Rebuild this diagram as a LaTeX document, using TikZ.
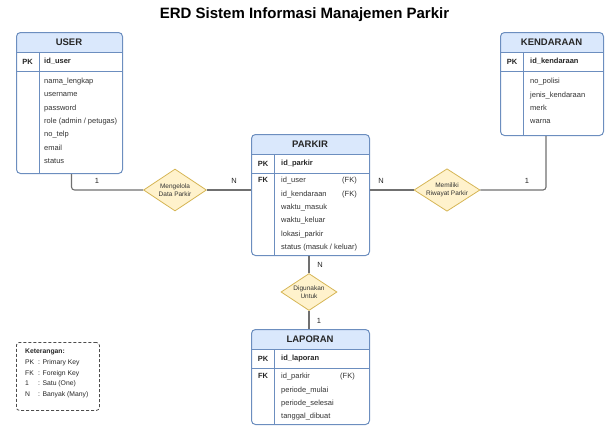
\documentclass[tikz,border=0pt]{standalone}
\usepackage{fontspec}
\setmainfont{Liberation Sans}
\usetikzlibrary{shapes.geometric}

\definecolor{hdrblue}{HTML}{DAE8FC}
\definecolor{lineblue}{HTML}{6C8EBF}
\definecolor{dmdfill}{HTML}{FFF2CC}
\definecolor{dmdline}{HTML}{D6B656}
\definecolor{conngray}{HTML}{707070}

\begin{document}
\begin{tikzpicture}[x=1pt, y=-1pt,
		entity/.style={draw=lineblue, line width=1pt, rounded corners=4pt, fill=white,
			inner sep=0pt, anchor=north west,
			path picture={
				\fill[hdrblue, sharp corners] (path picture bounding box.north west) rectangle ([yshift=-20pt]path picture bounding box.north east);
				\draw[lineblue, line width=1pt] ([yshift=-20pt]path picture bounding box.north west) -- ([yshift=-20pt]path picture bounding box.north east);
				\draw[lineblue, line width=1pt] ([yshift=-39pt]path picture bounding box.north west) -- ([yshift=-39pt]path picture bounding box.north east);
				\draw[lineblue, line width=1pt] ([shift={(23pt,-20pt)}]path picture bounding box.north west) -- ([xshift=23pt]path picture bounding box.south west);
			}},
		hdtext/.style={font=\fontsize{9.5}{11}\selectfont\bfseries, text=black!85, inner sep=0pt},
		keytext/.style={font=\fontsize{7.5}{9}\selectfont\bfseries, text=black!85, inner sep=0pt},
		attr/.style={font=\fontsize{7.5}{13.3}\selectfont, align=left, anchor=north west, inner sep=0pt, text=black!80},
		rel/.style={diamond, aspect=1.5, draw=dmdline, fill=dmdfill, line width=0.8pt, inner sep=0pt,
			align=center, font=\fontsize{6.5}{8.5}\selectfont, text=black!80},
		card/.style={font=\fontsize{7.5}{9}\selectfont, inner sep=0pt, text=black!85},
		conn/.style={draw=conngray, line width=1.1pt},
	]
		\useasboundingbox (0,0) rectangle (609,426);

		\node[font=\fontsize{15}{18}\selectfont\bfseries] (title) at (304.5,15) {ERD Sistem Informasi Manajemen Parkir};

		% entities
		\node[entity, minimum width=106pt, minimum height=141pt] (user) at (16,32) {};
		\node[hdtext] (usert) at (69,42) {USER};
		\node[keytext] (userpk) at (27.5,61.5) {PK};
		\node[keytext, anchor=west] (userid) at (44,61.5) {id\_user};
		\node[attr] (userat) at (44,77.9) {nama\_lengkap\\username\\password\\role (admin / petugas)\\no\_telp\\email\\status};

		\node[entity, minimum width=103pt, minimum height=103pt] (kend) at (500,32) {};
		\node[hdtext] (kendt) at (551.5,42) {KENDARAAN};
		\node[keytext] (kendpk) at (512,61.5) {PK};
		\node[keytext, anchor=west] (kendid) at (530,61.5) {id\_kendaraan};
		\node[attr] (kendat) at (530,78.2) {no\_polisi\\jenis\_kendaraan\\merk\\warna};

		\node[entity, minimum width=118pt, minimum height=121pt] (parkir) at (251,134) {};
		\node[hdtext] (parkirt) at (310,144) {PARKIR};
		\node[keytext] (parkirpk) at (263,163.5) {PK};
		\node[keytext, anchor=west] (parkirid) at (281,163.5) {id\_parkir};
		\node[keytext] (parkirfk) at (263,180) {FK};
		\node[attr] (parkirat) at (281,177.2) {id\_user\\id\_kendaraan\\waktu\_masuk\\waktu\_keluar\\lokasi\_parkir\\status (masuk / keluar)};
		\node[attr, anchor=north east] (parkirfkt) at (357,177.2) {(FK)\\(FK)};

		\node[entity, minimum width=118pt, minimum height=95pt] (lap) at (251,329) {};
		\node[hdtext] (lapt) at (310,339) {LAPORAN};
		\node[keytext] (lappk) at (263,358.5) {PK};
		\node[keytext, anchor=west] (lapid) at (281,358.5) {id\_laporan};
		\node[keytext] (lapfk) at (263,376) {FK};
		\node[attr] (lapat) at (281,373.2) {id\_parkir\\periode\_mulai\\periode\_selesai\\tanggal\_dibuat};
		\node[attr, anchor=north east] (lapfkt) at (355,373.2) {(FK)};

		% relationships
		\node[rel, minimum width=63pt, minimum height=42pt] (mng) at (175,190) {Mengelola\\Data Parkir};
		\node[rel, minimum width=66pt, minimum height=42pt] (mlk) at (447,190) {Memiliki\\Riwayat Parkir};
		\node[rel, minimum width=56pt, minimum height=37pt] (dgn) at (309,292) {Digunakan\\Untuk};

		\draw[conn, rounded corners=3pt] ([xshift=2pt]user.south) |- (mng.west);
		\draw[conn] (mng.east) -- (mng.east-|parkir.west);
		\draw[conn] (mlk.west-|parkir.east) -- (mlk.west);
		\draw[conn, rounded corners=3pt] (mlk.east) -| ([xshift=-6pt]kend.south);
		\draw[conn] (dgn.north|-parkir.south) -- (dgn.north);
		\draw[conn] (dgn.south) -- (dgn.south|-lap.north);

		\node[card] (c1) at (97,181) {1};
		\node[card] (c2) at (234,181) {N};
		\node[card] (c3) at (381,181) {N};
		\node[card] (c4) at (527,181) {1};
		\node[card] (c5) at (320,265) {N};
		\node[card] (c6) at (319,321) {1};

		% legend
		\node[draw=black!70, dashed, dash pattern=on 3pt off 2pt, rounded corners=3pt, line width=0.8pt,
			minimum width=83pt, minimum height=68pt, inner sep=0pt, anchor=north west] (leg) at (16,342) {};
		\node[font=\fontsize{6.8}{10.7}\selectfont, align=left, anchor=north west, inner sep=0pt, text=black!85] (legtxt) at (25,349)
			{\textbf{Keterangan:}\\\makebox[13pt][l]{PK}: Primary Key\\\makebox[13pt][l]{FK}: Foreign Key\\\makebox[13pt][l]{1}: Satu (One)\\\makebox[13pt][l]{N}: Banyak (Many)};
	\end{tikzpicture}
\end{document}
